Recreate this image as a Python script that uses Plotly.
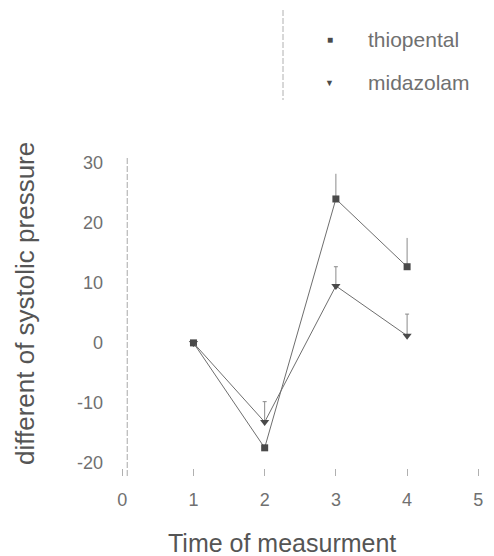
import plotly.graph_objects as go

time_points = [1, 2, 3, 4]
thiopental = [0, -17.5, 24, 12.7]
thiopental_err = [0, 0, 4.2, 4.8]
midazolam = [0, -13.2, 9.5, 1.2]
midazolam_err = [0, 3.4, 3.2, 3.6]
x_ticks = [0, 1, 2, 3, 4, 5]
y_ticks = [-20, -10, 0, 10, 20, 30]

FONT = "Liberation Sans, Arial, sans-serif"
LINE = "#6e6e6e"
MARK = "#4a4a4a"
OFF = 8  # default page body margin

fig = go.Figure()
fig.add_trace(go.Scatter(
    x=time_points, y=thiopental, mode="lines+markers", name="thiopental",
    line=dict(color=LINE, width=1),
    marker=dict(symbol="square", size=7, color=MARK),
    error_y=dict(type="data", array=thiopental_err, arrayminus=[0]*4,
                 color="#8a8a8a", thickness=1, width=0),
    showlegend=False))
fig.add_trace(go.Scatter(
    x=time_points, y=midazolam, mode="lines+markers", name="midazolam",
    line=dict(color=LINE, width=1),
    marker=dict(symbol="triangle-down", size=8, color=MARK),
    error_y=dict(type="data", array=midazolam_err, arrayminus=[0]*4,
                 color="#8a8a8a", thickness=1, width=2),
    showlegend=False))

L, T = 108, 157   # plot-area top-left in page pixels
W, H = 381, 319
FW, FH = 494 - OFF, 556 - OFF

def px(x):
    return (x - L) / W

def py(y):
    return (T + H - y) / H

fig.update_layout(
    width=FW, height=FH,
    margin=dict(l=L - OFF, r=FW - (L - OFF) - W, t=T - OFF, b=FH - (T - OFF) - H),
    paper_bgcolor="white", plot_bgcolor="white",
    font=dict(family=FONT, color="#707070", size=18),
    xaxis=dict(range=[-0.2, 5.15], tickvals=x_ticks, ticktext=[str(v) for v in x_ticks],
               showgrid=False, zeroline=False, showline=False,
               ticks="inside", ticklen=7, tickcolor="#b0b0b0", tickwidth=1,
               ticklabelstandoff=11),
    yaxis=dict(range=[-22.2, 31], tickvals=y_ticks, ticktext=[str(v) for v in y_ticks],
               showgrid=False, zeroline=False, showline=False, ticks="",
               ticklabelstandoff=4),
    shapes=[
        dict(type="line", xref="x", yref="paper", x0=0.07, x1=0.07, y0=0, y1=1,
             line=dict(color="#a8a8a8", width=1, dash="6px,2px")),
        dict(type="line", xref="paper", yref="paper",
             x0=px(283), x1=px(283), y0=py(10), y1=py(100),
             line=dict(color="#b0b0b0", width=1, dash="6px,2px")),
    ],
    annotations=[
        dict(xref="paper", yref="paper", x=px(282), y=py(543), text="Time of measurment",
             xanchor="center", yanchor="middle", showarrow=False,
             font=dict(size=25, color="#555555")),
        dict(xref="paper", yref="paper", x=px(25), y=py(304), text="different of systolic pressure",
             textangle=-90, xanchor="center", yanchor="middle", showarrow=False,
             font=dict(size=26, color="#555555")),
        dict(xref="paper", yref="paper", x=px(330), y=py(40), text="■",
             xanchor="center", yanchor="middle", showarrow=False, font=dict(size=10, color=MARK)),
        dict(xref="paper", yref="paper", x=px(366), y=py(40), text="thiopental",
             xanchor="left", yanchor="middle", showarrow=False, font=dict(size=21, color="#707070")),
        dict(xref="paper", yref="paper", x=px(329), y=py(83), text="▼",
             xanchor="center", yanchor="middle", showarrow=False, font=dict(size=9, color=MARK)),
        dict(xref="paper", yref="paper", x=px(366), y=py(83), text="midazolam",
             xanchor="left", yanchor="middle", showarrow=False, font=dict(size=21, color="#707070")),
    ],
)

fig.write_html("out.html")
